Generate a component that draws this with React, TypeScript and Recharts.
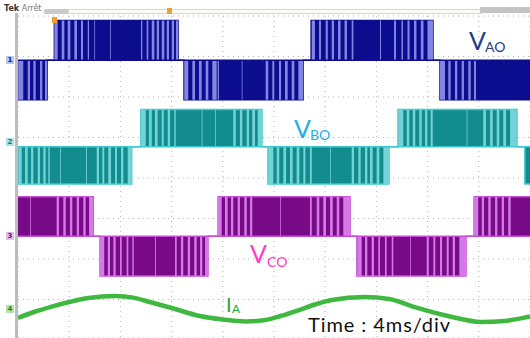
import React from 'react';
import { ComposedChart, Area, Line, XAxis, YAxis, CartesianGrid, ReferenceLine } from 'recharts';

// ---------- data (time in ms, 4 ms/div) ----------
const timeTicks = [4, 8, 12, 16, 20, 24, 28, 32, 36];
const divTicks = [1, 2, 3, 4, 5, 6, 7];

// phase voltage envelopes: level -1 / 0 / +1 starting at each time
const vaoTimes = [0, 2.27, 2.84, 12.5, 12.97, 22.27, 22.9, 32.42, 32.97, 40];
const vaoLevels = [-1, 0, 1, 0, -1, 0, 1, 0, -1, -1];
const vboTimes = [0, 8.88, 9.6, 19.06, 19.53, 28.98, 29.69, 38.98, 39.6, 40];
const vboLevels = [-1, 0, 1, 0, -1, 0, 1, 0, -1, -1];
const vcoTimes = [0, 5.88, 6.41, 14.84, 15.63, 25.94, 26.48, 35.0, 35.63, 40];
const vcoLevels = [1, 0, -1, 0, 1, 0, -1, 0, 1, 1];

// PWM zero-voltage gaps [start, end] (ms)
const vaoGaps: [number, number][] = [
  [0.02, 0.41], [0.76, 0.94], [1.2, 1.38], [1.72, 1.9], [2.11, 2.27],
  [2.84, 3.1], [3.41, 3.62], [3.88, 4.09], [4.4, 4.61], [4.92, 5.08], [5.45, 5.55], [5.96, 6.02], [7.19, 7.25],
  [9.61, 9.71], [10.05, 10.18], [10.45, 10.65], [10.84, 11.02], [11.23, 11.43], [11.62, 11.8], [12.01, 12.19], [12.34, 12.5],
  [12.99, 13.3], [13.62, 13.83], [14.14, 14.35], [14.66, 14.87], [15.18, 15.52], [15.6, 15.7], [17.48, 17.54],
  [19.35, 19.55], [19.87, 20.02], [20.39, 20.55], [20.86, 21.07], [21.38, 21.59], [21.9, 22.27],
  [22.95, 23.2], [23.52, 23.67], [24.04, 24.2], [24.51, 24.69], [25.0, 25.2], [25.51, 25.7], [26.07, 26.2], [28.28, 28.36],
  [29.38, 29.53], [29.96, 30.08], [30.43, 30.59], [30.94, 31.13], [31.47, 31.68], [31.99, 32.42],
  [32.97, 33.36], [33.62, 33.8], [34.14, 34.32], [34.66, 34.84], [35.18, 35.37], [35.63, 35.78],
];
const vboGaps: [number, number][] = [
  [0.02, 0.29], [0.55, 0.76], [1.02, 1.2], [1.54, 1.72], [1.98, 2.16], [2.37, 2.48], [3.28, 3.34], [5.31, 5.38],
  [6.15, 6.33], [6.59, 6.74], [7.05, 7.27], [7.58, 7.73], [8.05, 8.23], [8.57, 8.88],
  [9.61, 9.98], [10.23, 10.45], [10.7, 10.91], [11.23, 11.38], [11.7, 11.88], [12.21, 12.32], [14.35, 14.41], [15.39, 15.45],
  [16.82, 17.01], [17.34, 17.52], [17.87, 18.05], [18.3, 18.52], [18.73, 19.06],
  [19.55, 19.95], [20.21, 20.41], [20.73, 20.94], [21.25, 21.46], [21.77, 21.98], [22.29, 22.45], [22.81, 22.95], [24.38, 24.44],
  [26.07, 26.25], [26.59, 26.77], [27.11, 27.29], [27.5, 27.71], [28.02, 28.23], [28.54, 28.98],
  [29.71, 30.1], [30.37, 30.57], [30.84, 31.04], [31.35, 31.54], [31.8, 31.98], [32.24, 32.4], [35.05, 35.11],
  [36.35, 36.56], [36.88, 37.09], [37.4, 37.6], [37.91, 38.13], [38.44, 38.96],
];
const vcoGaps: [number, number][] = [
  [0.94, 1.0], [3.02, 3.2], [3.54, 3.73], [4.06, 4.24], [4.59, 4.77], [5.1, 5.29], [5.55, 5.88],
  [6.41, 6.74], [7.01, 7.19], [7.45, 7.63], [7.97, 8.1], [8.49, 8.62], [8.93, 9.04], [10.7, 10.77],
  [12.27, 12.4], [12.73, 12.91], [13.26, 13.44], [13.77, 13.96], [14.22, 14.4], [14.61, 14.84],
  [15.63, 15.91], [16.17, 16.38], [16.64, 16.82], [17.16, 17.34], [17.68, 17.87], [18.13, 18.3], [20.47, 20.53],
  [22.81, 22.95], [23.34, 23.54], [23.85, 24.06], [24.38, 24.59], [24.9, 25.1], [25.41, 25.94],
  [26.51, 26.85], [27.11, 27.29], [27.63, 27.81], [28.15, 28.28], [28.67, 28.8], [29.2, 29.32], [30.63, 30.69],
  [31.93, 32.09], [32.45, 32.6], [32.97, 33.13], [33.49, 33.65], [33.96, 34.14], [34.48, 35.0],
  [35.63, 35.96], [36.23, 36.41], [36.74, 36.93], [37.27, 37.45], [37.79, 37.97], [38.3, 38.49],
];

// phase A current (normalised)
const iaTimes = [0, 1.25, 2.5, 4, 5.5, 7.6, 9, 10.3, 12, 14.2, 16, 17.8, 19.3, 20.5, 21.9, 23.2, 24.5, 27.1, 29, 31, 33.6, 36.2, 38, 39.8, 40];
const iaValues = [-0.69, -0.23, 0.15, 0.54, 0.85, 1.0, 0.88, 0.54, 0.08, -0.54, -0.81, -0.96, -0.85, -0.54, -0.1, 0.35, 0.69, 0.92, 0.77, 0.15, -0.54, -1.0, -0.92, -0.62, -0.58];

// ---------- helpers ----------
type Pt = { t: number; v: number };
const toSeries = (times: number[], vals: number[]): Pt[] => times.map((t, i) => ({ t, v: vals[i] }));
const levelAt = (times: number[], levels: number[], t: number) => {
  let lv = 0;
  for (let i = 0; i < times.length; i++) if (times[i] <= t) lv = levels[i];
  return lv;
};
const gapSeries = (gaps: [number, number][], times: number[], levels: number[]): Pt[] => {
  const pts: Pt[] = [{ t: 0, v: 0 }];
  gaps.forEach(([s, e]) => {
    const lv = levelAt(times, levels, (s + e) / 2);
    pts.push({ t: s, v: lv });
    pts.push({ t: e, v: 0 });
  });
  pts.push({ t: 40, v: 0 });
  return pts;
};

// ---------- layout / style ----------
const W = 530;
const H = 338;
const TOP = 16;
const PX_PER_DIV = 40.5;
const Y_MIN = 8 - (H - TOP) / PX_PER_DIV;

const chA = { base: 6.91, amp: 0.98, dark: '#0c0c8e', light: '#8484e2', edge: '#0c0c8e' };
const chB = { base: 4.77, amp: 0.92, dark: '#128c8e', light: '#72d4d6', edge: '#3ccaca' };
const chC = { base: 2.56, amp: 0.98, dark: '#780a88', light: '#d47ae6', edge: '#c84cd8' };
const IA_BASE = 0.765;
const IA_SCALE = 0.32;

const channels = [
  { key: 'A', cfg: chA, env: toSeries(vaoTimes, vaoLevels), gaps: gapSeries(vaoGaps, vaoTimes, vaoLevels) },
  { key: 'B', cfg: chB, env: toSeries(vboTimes, vboLevels), gaps: gapSeries(vboGaps, vboTimes, vboLevels) },
  { key: 'C', cfg: chC, env: toSeries(vcoTimes, vcoLevels), gaps: gapSeries(vcoGaps, vcoTimes, vcoLevels) },
];
const iaSeries = toSeries(iaTimes, iaValues);

const FONT = 'Lato, "Open Sans", sans-serif';

const Marker = ({ y, bg, fg, label }: { y: number; bg: string; fg: string; label: string }) => (
  <div
    style={{
      position: 'absolute', left: 6, top: y, width: 8, height: 8, background: bg, color: fg,
      fontSize: 7, lineHeight: '8px', textAlign: 'center', fontFamily: 'DejaVu Sans', fontWeight: 700,
    }}
  >
    {label}
  </div>
);

export default function App() {
  return (
    <div style={{ position: 'absolute', left: 0, top: 0, width: W, height: H, overflow: 'hidden', background: '#ffffff' }}>
      <ComposedChart width={W} height={H} margin={{ top: TOP, right: 0, bottom: 0, left: 18 }}>
        <XAxis dataKey="t" type="number" domain={[0, 40]} ticks={timeTicks} hide allowDataOverflow />
        <YAxis type="number" domain={[Y_MIN, 8]} ticks={divTicks} hide allowDataOverflow />
        <CartesianGrid stroke="#b4b4b4" strokeDasharray="1 4" />
        {channels.map((c) => (
          <Area
            key={`env${c.key}`}
            data={c.env}
            dataKey={(d: Pt) => c.cfg.base + d.v * c.cfg.amp}
            baseValue={c.cfg.base}
            type="stepAfter"
            fill={c.cfg.dark}
            fillOpacity={1}
            stroke={c.cfg.edge}
            strokeWidth={1.5}
            dot={false}
            activeDot={false}
            isAnimationActive={false}
          />
        ))}
        {channels.map((c) => (
          <Area
            key={`gap${c.key}`}
            data={c.gaps}
            dataKey={(d: Pt) => c.cfg.base + d.v * c.cfg.amp}
            baseValue={c.cfg.base}
            type="stepAfter"
            fill={c.cfg.light}
            fillOpacity={1}
            stroke="none"
            dot={false}
            activeDot={false}
            isAnimationActive={false}
          />
        ))}
        {channels.map((c) => (
          <ReferenceLine key={`base${c.key}`} y={c.cfg.base} stroke={c.cfg.edge} strokeWidth={1.5} />
        ))}
        <Line
          data={iaSeries}
          dataKey={(d: Pt) => IA_BASE + d.v * IA_SCALE}
          type="monotone"
          stroke="#3fb83f"
          strokeWidth={4.5}
          dot={false}
          activeDot={false}
          isAnimationActive={false}
        />
      </ComposedChart>

      {/* scope decorations */}
      <div style={{ position: 'absolute', left: 15, top: 13, width: 3, height: H - 13, background: '#bdbdbd' }} />
      <div style={{ position: 'absolute', left: 44, top: 9, width: 24, height: 5, background: '#cacaca' }} />
      <div style={{ position: 'absolute', left: 68, top: 9, width: 412, height: 3, border: '1px solid #d6dcc4', background: '#fbfbf4' }} />
      <div style={{ position: 'absolute', left: 480, top: 7, width: 50, height: 6, background: '#c4c4c4' }} />
      <div style={{ position: 'absolute', left: 167, top: 8, width: 5, height: 6, background: '#f0a030' }} />
      <div style={{ position: 'absolute', left: 52, top: 17, width: 5, height: 6, background: '#f0a030' }} />
      <Marker y={56} bg="#b8c4f0" fg="#1a1a90" label="1" />
      <Marker y={138} bg="#a6e2e8" fg="#127c80" label="2" />
      <Marker y={232} bg="#e4bcec" fg="#780a88" label="3" />
      <Marker y={305} bg="#b6e2a6" fg="#2a8a2a" label="4" />

      <svg width={W} height={H} style={{ position: 'absolute', left: 0, top: 0, pointerEvents: 'none' }}>
        <text x={4} y={11} fontFamily="DejaVu Sans" fontSize={8} fill="#333">
          <tspan fontWeight={700}>Tek</tspan>
          <tspan fill="#777"> Arrêt</tspan>
        </text>
        <text x={469} y={50} fontFamily={FONT} fontSize={25} fill="#1f3c8e">V</text>
        <text x={485} y={52} fontFamily={FONT} fontSize={14} fill="#1f3c8e">AO</text>
        <text x={294} y={138} fontFamily={FONT} fontSize={25} fill="#1ab2e6">V</text>
        <text x={310} y={140} fontFamily={FONT} fontSize={14} fill="#1ab2e6">BO</text>
        <text x={250} y={263} fontFamily={FONT} fontSize={25} fill="#ff3cc4">V</text>
        <text x={267} y={267} fontFamily={FONT} fontSize={14} fill="#ff3cc4">CO</text>
        <text x={226} y={312} fontFamily={FONT} fontSize={20} fill="#22a83a">I</text>
        <text x={232} y={313} fontFamily={FONT} fontSize={12} fill="#22a83a">A</text>
        <text x={308} y={332} fontFamily={FONT} fontSize={20} fill="#111" textLength={142} lengthAdjust="spacing">
          Time : 4ms/div
        </text>
      </svg>
    </div>
  );
}
